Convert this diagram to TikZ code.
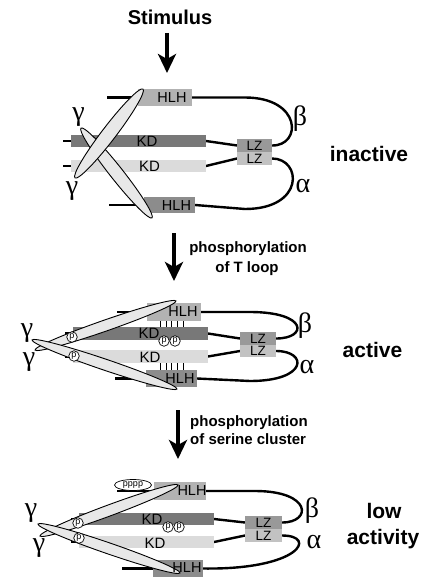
\documentclass[tikz,border=0pt]{standalone}
\usepackage{fontspec}
\setmainfont{Liberation Sans}
\newfontfamily\grk{Liberation Serif}
\usetikzlibrary{arrows.meta,calc,shapes.geometric}
\pgfdeclarelayer{back}
\pgfsetlayers{back,main}
\definecolor{hlhA}{gray}{0.70}
\definecolor{hlhB}{gray}{0.55}
\definecolor{kdA}{gray}{0.47}
\definecolor{kdB}{gray}{0.86}
\definecolor{lzA}{gray}{0.60}
\definecolor{lzB}{gray}{0.76}
\definecolor{rodfill}{gray}{0.91}
\tikzset{
  bar/.style={inner sep=0, outer sep=0, draw=none},
  lbl/.style={inner sep=0, font=\fontsize{14.5}{14.5}\selectfont},
  kdl/.style={inner sep=0, font=\fontsize{15}{15}\selectfont},
  lzl/.style={inner sep=0, font=\fontsize{13.5}{13.5}\selectfont},
  greek/.style={inner sep=0, font=\grk\fontsize{28}{28}\selectfont},
  statel/.style={inner sep=0, anchor=base, font=\bfseries\fontsize{21}{21}\selectfont},
  phos/.style={inner sep=0, anchor=base, font=\bfseries\fontsize{15}{15}\selectfont},
  link/.style={line width=2.4pt},
  lead/.style={line width=2.6pt},
  rod/.style={draw=black, line width=0.9pt, fill=rodfill},
  tickl/.style={line width=0.9pt},
  pcirc/.style={circle, draw, fill=white, line width=0.7pt, inner sep=0, minimum size=10.5pt, font=\fontsize{9}{9}\selectfont},
  bigarrow/.style={line width=4pt, -{Stealth[width=18pt,length=19pt,inset=5pt]}},
}
\begin{document}
\begin{tikzpicture}[x=1pt,y=-1pt]
\begin{pgfonlayer}{back}
\fill[white] (0,0) rectangle (428,585);
\end{pgfonlayer}
\path[use as bounding box] (0,0) rectangle (428,585);

% ---------- arrows and step texts ----------
\node[inner sep=0, anchor=base, font=\bfseries\fontsize{20}{20}\selectfont] (stim) at (170,25) {Stimulus};
\coordinate (a1s) at (167,33);
\coordinate (a1e) at (167,73);
\draw[bigarrow] (a1s) -- (a1e);
\coordinate (a2s) at (174,233);
\coordinate (a2e) at (174,281);
\draw[bigarrow] (a2s) -- (a2e);
\node[phos] (ph1a) at (248,252) {phosphorylation};
\node[phos] (ph1b) at (247,272) {of T loop};
\coordinate (a3s) at (178,410);
\coordinate (a3e) at (178,459);
\draw[bigarrow] (a3s) -- (a3e);
\node[phos, anchor=base west] (ph2a) at (190,426) {phosphorylation};
\node[phos, anchor=base west] (ph2b) at (190,444) {of serine cluster};

% ---------- panel 1: inactive ----------
\node[bar, fill=hlhA, minimum width=54pt, minimum height=17pt] (h1) at (165,97.5) {};
\node[bar, fill=kdA, minimum width=135pt, minimum height=12pt] (k1) at (138.5,141) {};
\node[bar, fill=kdB, minimum width=135pt, minimum height=12pt] (k2) at (138.5,166) {};
\node[bar, fill=hlhB, minimum width=51pt, minimum height=16pt] (h2) at (169.5,205) {};
\node[bar, fill=lzA, minimum width=35pt, minimum height=13pt] (z1) at (254.5,145.5) {};
\node[bar, fill=lzB, minimum width=35pt, minimum height=13pt] (z2) at (254.5,158.5) {};
\begin{pgfonlayer}{back}
\draw[lead] (h1.west) -- ++(-31,0);
\draw[lead] (h2.west) -- ++(-35,0);
\draw[lead] (k1.west) -- ++(-8,0);
\draw[lead] (k2.west) -- ++(-8,0);
\draw[link] (k1.east) -- (z1.west);
\draw[link] (k2.east) -- (z2.west);
\draw[link] (h1.east) -- (245,97.5) .. controls (302,97.5) and (302,146) .. (z1.east);
\draw[link] (z2.east) .. controls (302,158.5) and (305,209) .. (245,209) -- (h2.east);
\end{pgfonlayer}
\draw[rod, rotate around={-51.7:(116.5,173)}] (116.5,173) ellipse [x radius=57.3pt, y radius=6.5pt];
\draw[rod, rotate around={52.6:(109,133.5)}] (109,133.5) ellipse [x radius=56pt, y radius=7pt];
\node[lbl] (t1) at (172,98) {HLH};
\node[kdl] (t2) at (147,141) {KD};
\node[kdl] (t3) at (149.5,166) {KD};
\node[lbl] (t4) at (176.5,206) {HLH};
\node[lzl] (t5) at (z1) {LZ};
\node[lzl] (t6) at (z2) {LZ};
\node[greek] (g1) at (78.5,117) {γ};
\node[greek] (g2) at (72,191) {γ};
\node[greek] (g3) at (300,119) {β};
\node[greek] (g4) at (303,186) {α};
\node[statel] (s1) at (369,162) {inactive};

% ---------- panel 2: active ----------
\node[bar, fill=hlhA, minimum width=54pt, minimum height=18pt] (h3) at (174,312) {};
\node[bar, fill=kdA, minimum width=135pt, minimum height=13pt] (k3) at (140.5,333.5) {};
\node[bar, fill=kdB, minimum width=135pt, minimum height=13pt] (k4) at (140.5,356.5) {};
\node[bar, fill=hlhB, minimum width=51pt, minimum height=17pt] (h4) at (171.5,378.5) {};
\node[bar, fill=lzA, minimum width=36pt, minimum height=13pt] (z3) at (258,338.5) {};
\node[bar, fill=lzB, minimum width=36pt, minimum height=12pt] (z4) at (258,351) {};
\begin{pgfonlayer}{back}
\draw[lead] (h3.west) -- ++(-30,0);
\draw[lead] (h4.west) -- ++(-31,0);
\draw[lead] (k3.west) -- ++(-8,0);
\draw[lead] (k4.west) -- ++(-8,0);
\draw[link] (k3.east) -- (z3.west);
\draw[link] (k4.east) -- (z4.west);
\draw[link] (h3.east) -- (250,312) .. controls (308,312) and (308,338.5) .. (z3.east);
\draw[link] (z4.east) .. controls (308,351) and (308,381) .. (250,381) -- (h4.east);
\end{pgfonlayer}
\foreach \x in {160.5,166,171.5,177.5,183}{
  \draw[tickl] (\x,321) -- (\x,327);
  \draw[tickl] (\x,363) -- (\x,370);
}
\draw[rod, rotate around={19.2:(105.5,325.5)}] (105.5,325.5) ellipse [x radius=74.6pt, y radius=5.5pt];
\draw[rod, rotate around={-18.7:(104.5,364.5)}] (104.5,364.5) ellipse [x radius=76.5pt, y radius=5.5pt];
\node[pcirc] (p1) at (72,337) {p};
\node[pcirc] (p2) at (74,356) {p};
\node[pcirc] (p3) at (164,341) {p};
\node[pcirc] (p4) at (175,341) {p};
\node[lbl] (t7) at (183,312) {HLH};
\node[kdl] (t8) at (149,333) {KD};
\node[kdl] (t9) at (150,357) {KD};
\node[lbl] (t10) at (180,379) {HLH};
\node[lzl] (t11) at (z3) {LZ};
\node[lzl] (t12) at (z4) {LZ};
\node[greek] (g5) at (27,333) {γ};
\node[greek] (g6) at (29,362) {γ};
\node[greek] (g7) at (305,326) {β};
\node[greek] (g8) at (307,367) {α};
\node[statel] (s2) at (372.5,357) {active};

% ---------- panel 3: low activity ----------
\node[bar, fill=hlhA, minimum width=52pt, minimum height=18pt] (h5) at (180,491) {};
\node[bar, fill=kdA, minimum width=135pt, minimum height=12pt] (k5) at (146.5,519) {};
\node[bar, fill=kdB, minimum width=135pt, minimum height=12pt] (k6) at (146.5,542) {};
\node[bar, fill=hlhB, minimum width=50pt, minimum height=17pt] (h6) at (178,568.5) {};
\node[bar, fill=lzA, minimum width=37pt, minimum height=13pt] (z5) at (263.5,522.5) {};
\node[bar, fill=lzB, minimum width=37pt, minimum height=13pt] (z6) at (263.5,535.5) {};
\begin{pgfonlayer}{back}
\draw[lead] (h5.west) -- ++(-37,0);
\draw[lead] (h6.west) -- ++(-31,0);
\draw[lead] (k5.west) -- ++(-8,0);
\draw[lead] (k6.west) -- ++(-8,0);
\draw[link] (k5.east) -- (z5.west);
\draw[link] (k6.east) -- (z6.west);
\draw[link] (h5.east) -- (255,491) .. controls (312,491) and (312,522.5) .. (z5.east);
\draw[link] (z6.east) .. controls (318,535.5) and (300,570) .. (h6.east);
\end{pgfonlayer}
\node[ellipse, draw, fill=white, line width=0.7pt, inner sep=0, minimum width=37pt, minimum height=11pt, font=\fontsize{9}{9}\selectfont] (pp) at (133,485) {pppp};
\draw[rod, rotate around={20.3:(109,510.5)}] (109,510.5) ellipse [x radius=73.6pt, y radius=5.5pt];
\draw[rod, rotate around={-19.0:(109,548.5)}] (109,548.5) ellipse [x radius=75.1pt, y radius=5.5pt];
\node[pcirc] (p5) at (78,523) {p};
\node[pcirc] (p6) at (79,538) {p};
\node[pcirc] (p7) at (168,527) {p};
\node[pcirc] (p8) at (179,527) {p};
\node[lbl] (t13) at (192,491) {HLH};
\node[kdl] (t14) at (152,519) {KD};
\node[kdl] (t15) at (155,543) {KD};
\node[lbl] (t16) at (187,568) {HLH};
\node[lzl] (t17) at (z5) {LZ};
\node[lzl] (t18) at (z6) {LZ};
\node[greek] (g9) at (31,513) {γ};
\node[greek] (g10) at (39,548) {γ};
\node[greek] (g11) at (312,511) {β};
\node[greek] (g12) at (314,542) {α};
\node[statel] (s3) at (384,518) {low};
\node[statel] (s4) at (383,544) {activity};
\end{tikzpicture}
\end{document}
